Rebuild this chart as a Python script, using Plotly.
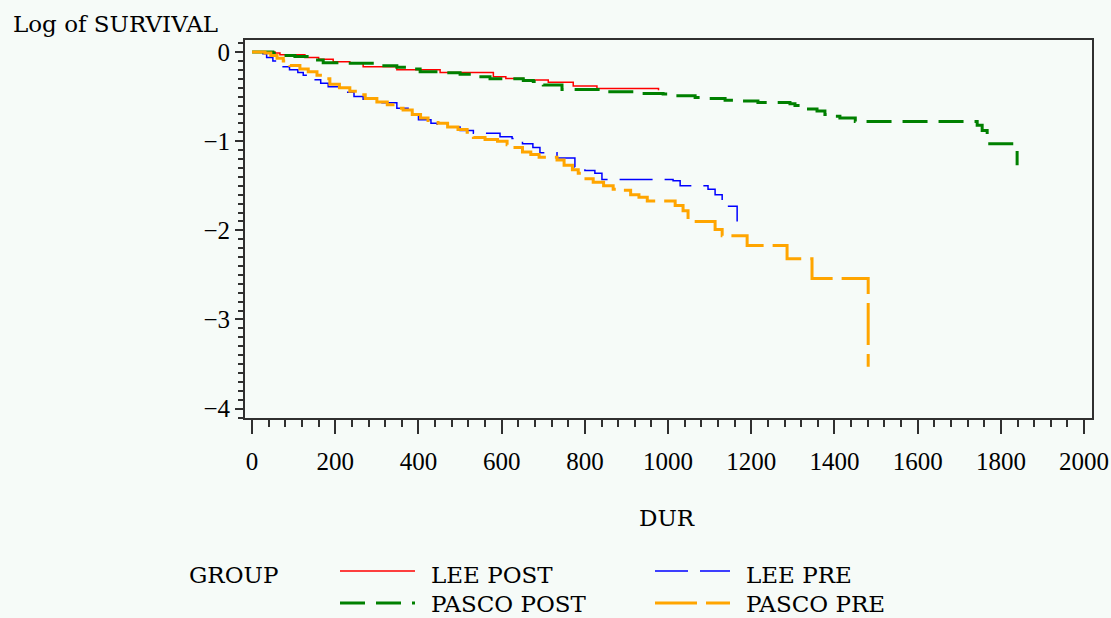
import plotly.graph_objects as go

# Log of survival by group (step functions over DUR)
lee_post_t = [0, 55, 67, 127, 160, 195, 235, 267, 348, 452, 580, 610, 652, 712, 772, 829, 977]
lee_post_v = [0, -0.01, -0.03, -0.06, -0.08, -0.11, -0.12, -0.165, -0.20, -0.23, -0.277, -0.296,
              -0.315, -0.34, -0.38, -0.41, -0.43]

pasco_post_t = [0, 50, 75, 103, 151, 171, 219, 300, 348, 372, 404, 452, 500, 532, 572, 652, 676,
                700, 745, 848, 933, 988, 1012, 1065, 1090, 1137, 1161, 1216, 1293, 1305, 1329,
                1358, 1377, 1394, 1413, 1450, 1743, 1755, 1767, 1839]
pasco_post_v = [0, -0.015, -0.04, -0.05, -0.09, -0.12, -0.127, -0.154, -0.17, -0.19, -0.22, -0.233,
                -0.25, -0.277, -0.30, -0.32, -0.33, -0.37, -0.42, -0.446, -0.465, -0.47, -0.49,
                -0.51, -0.52, -0.54, -0.55, -0.565, -0.58, -0.60, -0.64, -0.66, -0.70, -0.72,
                -0.74, -0.78, -0.82, -0.88, -1.03, -1.27]

lee_pre_t = [0, 26, 35, 50, 67, 90, 110, 123, 144, 165, 183, 219, 245, 267, 300, 348, 375, 400,
             430, 445, 460, 500, 532, 596, 625, 650, 675, 692, 733, 776, 800, 824, 841, 1012,
             1029, 1096, 1113, 1130, 1166]
lee_pre_v = [0, -0.02, -0.06, -0.10, -0.165, -0.20, -0.23, -0.26, -0.31, -0.35, -0.39, -0.45,
             -0.50, -0.53, -0.57, -0.63, -0.70, -0.76, -0.80, -0.82, -0.84, -0.88, -0.91, -0.95,
             -0.97, -1.03, -1.07, -1.13, -1.19, -1.29, -1.33, -1.36, -1.43, -1.445, -1.50,
             -1.54, -1.60, -1.73, -1.90]

pasco_pre_t = [0, 31, 45, 60, 75, 91, 115, 135, 156, 170, 187, 210, 235, 255, 272, 300, 325, 348,
               363, 385, 405, 423, 447, 470, 495, 517, 532, 560, 590, 613, 632, 650, 670, 690,
               733, 750, 770, 784, 793, 820, 845, 868, 889, 910, 930, 950, 1017, 1036, 1048,
               1113, 1130, 1190, 1286, 1346, 1481]
pasco_pre_v = [0, -0.01, -0.04, -0.07, -0.10, -0.15, -0.19, -0.22, -0.26, -0.30, -0.36, -0.40,
               -0.44, -0.48, -0.52, -0.56, -0.59, -0.63, -0.65, -0.70, -0.74, -0.79, -0.80,
               -0.84, -0.87, -0.90, -0.96, -0.98, -1.00, -1.04, -1.07, -1.12, -1.15, -1.18,
               -1.21, -1.27, -1.32, -1.36, -1.42, -1.46, -1.50, -1.54, -1.55, -1.60, -1.63,
               -1.67, -1.72, -1.78, -1.90, -1.99, -2.06, -2.17, -2.32, -2.54, -3.53]

x_ticks = [0, 200, 400, 600, 800, 1000, 1200, 1400, 1600, 1800, 2000]
y_ticks = [0, -1, -2, -3, -4]
y_tick_text = ["0", "\u22121", "\u22122", "\u22123", "\u22124"]

series = [
    ("LEE POST", lee_post_t, lee_post_v, "#FF0000", 1.5, "solid"),
    ("LEE PRE", lee_pre_t, lee_pre_v, "#0000FF", 1.5, "33px,12px"),
    ("PASCO POST", pasco_post_t, pasco_post_v, "#008000", 3, "25px,11px"),
    ("PASCO PRE", pasco_pre_t, pasco_pre_v, "#FFA500", 3, "42px,9px"),
]

NUM_FONT = "Liberation Serif"
TXT_FONT = "DejaVu Serif"
TXT_SIZE = 23
BG = "#F6FBF8"
AXIS = "#303030"
W, H = 1111, 618
L, R, T, B = 245, 19, 40, 200


def px(x, y):
    """Pixel position -> paper coordinates."""
    pw = W - L - R
    ph = H - T - B
    return (x - L) / pw, (H - B - y) / ph


fig = go.Figure()
for name, t, v, color, width, dash in series:
    fig.add_trace(go.Scatter(
        x=t, y=v, mode="lines", name=name, line_shape="hv",
        line=dict(color=color, width=width, dash=dash), showlegend=False,
    ))

# Legend block below the axis: (label, sample x, sample y, text anchor y, colour, width, dash)
legend_rows = [
    ("LEE POST", 340, 571, 575, "#FF0000", 1.5, "solid"),
    ("LEE PRE", 655, 571, 575, "#0000FF", 1.5, "33px,12px"),
    ("PASCO POST", 340, 603, 604, "#008000", 3, "25px,11px"),
    ("PASCO PRE", 655, 603, 604, "#FFA500", 3, "42px,9px"),
]
txt_font = dict(family=TXT_FONT, size=TXT_SIZE, color="#000000")
shapes = []
annotations = []
for label, x0, y0, ty0, color, width, dash in legend_rows:
    ax0, ay = px(x0, y0)
    ax1, _ = px(x0 + 75, y0)
    shapes.append(dict(type="line", xref="paper", yref="paper", x0=ax0, x1=ax1, y0=ay, y1=ay,
                       line=dict(color=color, width=width, dash=dash)))
    tx, ty = px(x0 + 89, ty0)
    annotations.append(dict(text=label, xref="paper", yref="paper", x=tx, y=ty,
                            xanchor="left", yanchor="middle", showarrow=False, font=txt_font,
                            height=26, valign="middle"))

gx, gy = px(187, 575)
annotations.append(dict(text="GROUP", xref="paper", yref="paper", x=gx, y=gy,
                        xanchor="left", yanchor="middle", showarrow=False, font=txt_font))
ttx, tty = px(11, 24)
annotations.append(dict(text="Log of SURVIVAL", xref="paper", yref="paper", x=ttx, y=tty,
                        xanchor="left", yanchor="middle", showarrow=False, font=txt_font))
dx, dy = px(667, 518)
annotations.append(dict(text="DUR", xref="paper", yref="paper", x=dx, y=dy,
                        xanchor="center", yanchor="middle", showarrow=False, font=txt_font))

fig.update_layout(
    width=W, height=H,
    margin=dict(l=L, r=R, t=T, b=B, pad=0, autoexpand=False),
    paper_bgcolor=BG, plot_bgcolor=BG,
    font=dict(family=NUM_FONT, size=25, color="#000000"),
    shapes=shapes, annotations=annotations,
    showlegend=False,
)
fig.update_xaxes(
    range=[-17, 2019], tickvals=x_ticks, ticks="outside", ticklen=14, tickwidth=2,
    tickcolor=AXIS, showline=True, linecolor=AXIS, linewidth=2, mirror=True,
    showgrid=False, zeroline=False, ticklabelstandoff=6, automargin=False,
    minor=dict(dtick=40, tick0=0, ticks="outside", ticklen=7, tickwidth=2, tickcolor=AXIS,
               showgrid=False),
)
fig.update_yaxes(
    range=[-4.105, 0.135], tickvals=y_ticks, ticktext=y_tick_text, ticks="outside", ticklen=8,
    tickwidth=2, tickcolor=AXIS, showline=True, linecolor=AXIS, linewidth=2, mirror=True,
    showgrid=False, zeroline=False, automargin=False,
    minor=dict(dtick=0.1, tick0=0, ticks="outside", ticklen=5, tickwidth=2, tickcolor=AXIS,
               showgrid=False),
)

fig.write_html("out.html")
